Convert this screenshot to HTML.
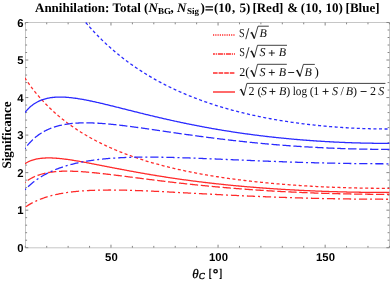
<!DOCTYPE html>
<html><head><meta charset="utf-8"><title>plot</title>
<style>
html,body{margin:0;padding:0;background:#fff;}
body{width:390px;height:281px;overflow:hidden;}
svg{display:block;}
text{text-rendering:geometricPrecision;}
.sans{font-family:"Liberation Sans",sans-serif;font-weight:bold;font-size:11.3px;fill:#000;}
.ser{font-family:"Liberation Serif",serif;fill:#000;}
.leg{font-family:"Liberation Serif",serif;font-size:12px;fill:#111;}
.it{font-style:italic;}
.op{stroke:#111;stroke-width:0.3px;}
</style></head><body>
<svg width="390" height="281" viewBox="0 0 390 281" style="will-change:transform">
<rect width="390" height="281" fill="#fff"/>
<defs><clipPath id="cp"><rect x="24.9" y="22.1" width="365" height="225.9"/></clipPath></defs>
<path d="M25.5,22.5H389.5V247.8H25.5Z" fill="none" stroke="#c6c6c6" stroke-width="1"/>
<g stroke="#858585" stroke-width="1">
<line x1="25.3" y1="247.70" x2="28.3" y2="247.70"/>
<line x1="389.4" y1="247.70" x2="386.4" y2="247.70"/>
<line x1="25.3" y1="240.19" x2="27.1" y2="240.19"/>
<line x1="389.4" y1="240.19" x2="387.6" y2="240.19"/>
<line x1="25.3" y1="232.69" x2="27.1" y2="232.69"/>
<line x1="389.4" y1="232.69" x2="387.6" y2="232.69"/>
<line x1="25.3" y1="225.18" x2="27.1" y2="225.18"/>
<line x1="389.4" y1="225.18" x2="387.6" y2="225.18"/>
<line x1="25.3" y1="217.67" x2="27.1" y2="217.67"/>
<line x1="389.4" y1="217.67" x2="387.6" y2="217.67"/>
<line x1="25.3" y1="210.17" x2="28.3" y2="210.17"/>
<line x1="389.4" y1="210.17" x2="386.4" y2="210.17"/>
<line x1="25.3" y1="202.66" x2="27.1" y2="202.66"/>
<line x1="389.4" y1="202.66" x2="387.6" y2="202.66"/>
<line x1="25.3" y1="195.15" x2="27.1" y2="195.15"/>
<line x1="389.4" y1="195.15" x2="387.6" y2="195.15"/>
<line x1="25.3" y1="187.65" x2="27.1" y2="187.65"/>
<line x1="389.4" y1="187.65" x2="387.6" y2="187.65"/>
<line x1="25.3" y1="180.14" x2="27.1" y2="180.14"/>
<line x1="389.4" y1="180.14" x2="387.6" y2="180.14"/>
<line x1="25.3" y1="172.63" x2="28.3" y2="172.63"/>
<line x1="389.4" y1="172.63" x2="386.4" y2="172.63"/>
<line x1="25.3" y1="165.13" x2="27.1" y2="165.13"/>
<line x1="389.4" y1="165.13" x2="387.6" y2="165.13"/>
<line x1="25.3" y1="157.62" x2="27.1" y2="157.62"/>
<line x1="389.4" y1="157.62" x2="387.6" y2="157.62"/>
<line x1="25.3" y1="150.11" x2="27.1" y2="150.11"/>
<line x1="389.4" y1="150.11" x2="387.6" y2="150.11"/>
<line x1="25.3" y1="142.61" x2="27.1" y2="142.61"/>
<line x1="389.4" y1="142.61" x2="387.6" y2="142.61"/>
<line x1="25.3" y1="135.10" x2="28.3" y2="135.10"/>
<line x1="389.4" y1="135.10" x2="386.4" y2="135.10"/>
<line x1="25.3" y1="127.59" x2="27.1" y2="127.59"/>
<line x1="389.4" y1="127.59" x2="387.6" y2="127.59"/>
<line x1="25.3" y1="120.09" x2="27.1" y2="120.09"/>
<line x1="389.4" y1="120.09" x2="387.6" y2="120.09"/>
<line x1="25.3" y1="112.58" x2="27.1" y2="112.58"/>
<line x1="389.4" y1="112.58" x2="387.6" y2="112.58"/>
<line x1="25.3" y1="105.07" x2="27.1" y2="105.07"/>
<line x1="389.4" y1="105.07" x2="387.6" y2="105.07"/>
<line x1="25.3" y1="97.57" x2="28.3" y2="97.57"/>
<line x1="389.4" y1="97.57" x2="386.4" y2="97.57"/>
<line x1="25.3" y1="90.06" x2="27.1" y2="90.06"/>
<line x1="389.4" y1="90.06" x2="387.6" y2="90.06"/>
<line x1="25.3" y1="82.55" x2="27.1" y2="82.55"/>
<line x1="389.4" y1="82.55" x2="387.6" y2="82.55"/>
<line x1="25.3" y1="75.05" x2="27.1" y2="75.05"/>
<line x1="389.4" y1="75.05" x2="387.6" y2="75.05"/>
<line x1="25.3" y1="67.54" x2="27.1" y2="67.54"/>
<line x1="389.4" y1="67.54" x2="387.6" y2="67.54"/>
<line x1="25.3" y1="60.03" x2="28.3" y2="60.03"/>
<line x1="389.4" y1="60.03" x2="386.4" y2="60.03"/>
<line x1="25.3" y1="52.53" x2="27.1" y2="52.53"/>
<line x1="389.4" y1="52.53" x2="387.6" y2="52.53"/>
<line x1="25.3" y1="45.02" x2="27.1" y2="45.02"/>
<line x1="389.4" y1="45.02" x2="387.6" y2="45.02"/>
<line x1="25.3" y1="37.51" x2="27.1" y2="37.51"/>
<line x1="389.4" y1="37.51" x2="387.6" y2="37.51"/>
<line x1="25.3" y1="30.01" x2="27.1" y2="30.01"/>
<line x1="389.4" y1="30.01" x2="387.6" y2="30.01"/>
<line x1="25.3" y1="22.50" x2="28.3" y2="22.50"/>
<line x1="389.4" y1="22.50" x2="386.4" y2="22.50"/>
<line x1="25.30" y1="247.7" x2="25.30" y2="245.89999999999998"/>
<line x1="25.30" y1="22.5" x2="25.30" y2="24.3"/>
<line x1="46.72" y1="247.7" x2="46.72" y2="245.89999999999998"/>
<line x1="46.72" y1="22.5" x2="46.72" y2="24.3"/>
<line x1="68.14" y1="247.7" x2="68.14" y2="245.89999999999998"/>
<line x1="68.14" y1="22.5" x2="68.14" y2="24.3"/>
<line x1="89.55" y1="247.7" x2="89.55" y2="245.89999999999998"/>
<line x1="89.55" y1="22.5" x2="89.55" y2="24.3"/>
<line x1="110.97" y1="247.7" x2="110.97" y2="244.7"/>
<line x1="110.97" y1="22.5" x2="110.97" y2="25.5"/>
<line x1="132.39" y1="247.7" x2="132.39" y2="245.89999999999998"/>
<line x1="132.39" y1="22.5" x2="132.39" y2="24.3"/>
<line x1="153.81" y1="247.7" x2="153.81" y2="245.89999999999998"/>
<line x1="153.81" y1="22.5" x2="153.81" y2="24.3"/>
<line x1="175.22" y1="247.7" x2="175.22" y2="245.89999999999998"/>
<line x1="175.22" y1="22.5" x2="175.22" y2="24.3"/>
<line x1="196.64" y1="247.7" x2="196.64" y2="245.89999999999998"/>
<line x1="196.64" y1="22.5" x2="196.64" y2="24.3"/>
<line x1="218.06" y1="247.7" x2="218.06" y2="244.7"/>
<line x1="218.06" y1="22.5" x2="218.06" y2="25.5"/>
<line x1="239.48" y1="247.7" x2="239.48" y2="245.89999999999998"/>
<line x1="239.48" y1="22.5" x2="239.48" y2="24.3"/>
<line x1="260.89" y1="247.7" x2="260.89" y2="245.89999999999998"/>
<line x1="260.89" y1="22.5" x2="260.89" y2="24.3"/>
<line x1="282.31" y1="247.7" x2="282.31" y2="245.89999999999998"/>
<line x1="282.31" y1="22.5" x2="282.31" y2="24.3"/>
<line x1="303.73" y1="247.7" x2="303.73" y2="245.89999999999998"/>
<line x1="303.73" y1="22.5" x2="303.73" y2="24.3"/>
<line x1="325.15" y1="247.7" x2="325.15" y2="244.7"/>
<line x1="325.15" y1="22.5" x2="325.15" y2="25.5"/>
<line x1="346.56" y1="247.7" x2="346.56" y2="245.89999999999998"/>
<line x1="346.56" y1="22.5" x2="346.56" y2="24.3"/>
<line x1="367.98" y1="247.7" x2="367.98" y2="245.89999999999998"/>
<line x1="367.98" y1="22.5" x2="367.98" y2="24.3"/>
<line x1="389.40" y1="247.7" x2="389.40" y2="245.89999999999998"/>
<line x1="389.40" y1="22.5" x2="389.40" y2="24.3"/>
</g>
<g clip-path="url(#cp)">
<path d="M24.87,77.89 L25.73,79.19 L26.58,80.47 L27.44,81.72 L28.29,82.95 L29.15,84.15 L30.01,85.34 L30.86,86.50 L31.72,87.64 L32.57,88.77 L33.43,89.87 L34.28,90.96 L35.14,92.03 L36.00,93.08 L36.85,94.11 L37.71,95.13 L38.56,96.14 L39.42,97.12 L40.27,98.10 L41.13,99.06 L41.99,100.00 L42.84,100.93 L43.70,101.85 L44.55,102.75 L45.41,103.64 L46.26,104.52 L47.12,105.39 L47.98,106.24 L48.83,107.09 L49.69,107.92 L50.54,108.74 L51.40,109.55 L52.25,110.35 L53.11,111.14 L53.97,111.92 L54.82,112.68 L55.68,113.44 L56.53,114.19 L57.39,114.93 L58.24,115.66 L59.10,116.38 L59.96,117.10 L60.81,117.80 L61.67,118.50 L62.52,119.18 L63.38,119.86 L64.23,120.53 L65.09,121.20 L65.95,121.85 L66.80,122.50 L67.66,123.14 L68.51,123.77 L69.37,124.40 L70.22,125.01 L71.08,125.63 L71.94,126.23 L72.79,126.83 L73.65,127.42 L74.50,128.00 L75.36,128.58 L76.21,129.15 L77.07,129.72 L77.93,130.28 L78.78,130.83 L79.64,131.38 L80.49,131.92 L81.35,132.45 L82.20,132.98 L83.06,133.51 L83.91,134.03 L84.77,134.54 L85.63,135.05 L86.48,135.55 L87.34,136.05 L88.19,136.54 L89.05,137.03 L89.90,137.51 L90.76,137.99 L91.62,138.46 L92.47,138.93 L93.33,139.39 L94.18,139.85 L95.04,140.30 L95.89,140.75 L96.75,141.20 L97.61,141.64 L98.46,142.07 L99.32,142.51 L100.17,142.93 L101.03,143.36 L101.88,143.78 L102.74,144.19 L103.60,144.60 L104.45,145.01 L105.31,145.41 L106.16,145.81 L107.02,146.21 L107.87,146.60 L108.73,146.99 L109.59,147.38 L110.44,147.76 L111.30,148.13 L112.15,148.51 L113.01,148.88 L113.86,149.25 L114.72,149.61 L115.58,149.97 L116.43,150.33 L117.29,150.68 L118.14,151.03 L119.00,151.38 L119.85,151.72 L120.71,152.07 L121.57,152.40 L122.42,152.74 L123.28,153.07 L124.13,153.40 L124.99,153.73 L125.84,154.05 L126.70,154.37 L127.56,154.69 L128.41,155.00 L129.27,155.31 L130.12,155.62 L130.98,155.93 L131.83,156.23 L132.69,156.54 L133.55,156.83 L134.40,157.13 L135.26,157.42 L136.11,157.71 L136.97,158.00 L137.82,158.29 L138.68,158.57 L139.54,158.85 L140.39,159.13 L141.25,159.41 L142.10,159.68 L142.96,159.95 L143.81,160.22 L144.67,160.49 L145.53,160.75 L146.38,161.02 L147.24,161.28 L148.09,161.53 L148.95,161.79 L149.80,162.04 L150.66,162.30 L151.52,162.54 L152.37,162.79 L153.23,163.04 L154.08,163.28 L154.94,163.52 L155.79,163.76 L156.65,164.00 L157.51,164.23 L158.36,164.47 L159.22,164.70 L160.07,164.93 L160.93,165.16 L161.78,165.38 L162.64,165.61 L163.50,165.83 L164.35,166.05 L165.21,166.27 L166.06,166.48 L166.92,166.70 L167.77,166.91 L168.63,167.12 L169.49,167.33 L170.34,167.54 L171.20,167.75 L172.05,167.95 L172.91,168.15 L173.76,168.36 L174.62,168.56 L175.47,168.75 L176.33,168.95 L177.19,169.15 L178.04,169.34 L178.90,169.53 L179.75,169.72 L180.61,169.91 L181.46,170.10 L182.32,170.28 L183.18,170.47 L184.03,170.65 L184.89,170.83 L185.74,171.01 L186.60,171.19 L187.45,171.37 L188.31,171.54 L189.17,171.72 L190.02,171.89 L190.88,172.06 L191.73,172.23 L192.59,172.40 L193.44,172.57 L194.30,172.73 L195.16,172.90 L196.01,173.06 L196.87,173.22 L197.72,173.38 L198.58,173.54 L199.43,173.70 L200.29,173.86 L201.15,174.02 L202.00,174.17 L202.86,174.32 L203.71,174.48 L204.57,174.63 L205.42,174.78 L206.28,174.92 L207.14,175.07 L207.99,175.22 L208.85,175.36 L209.70,175.51 L210.56,175.65 L211.41,175.79 L212.27,175.93 L213.13,176.07 L213.98,176.21 L214.84,176.35 L215.69,176.48 L216.55,176.62 L217.40,176.75 L218.26,176.88 L219.12,177.02 L219.97,177.15 L220.83,177.28 L221.68,177.41 L222.54,177.53 L223.39,177.66 L224.25,177.78 L225.11,177.91 L225.96,178.03 L226.82,178.16 L227.67,178.28 L228.53,178.40 L229.38,178.52 L230.24,178.64 L231.10,178.75 L231.95,178.87 L232.81,178.99 L233.66,179.10 L234.52,179.21 L235.37,179.33 L236.23,179.44 L237.09,179.55 L237.94,179.66 L238.80,179.77 L239.65,179.88 L240.51,179.99 L241.36,180.09 L242.22,180.20 L243.08,180.30 L243.93,180.41 L244.79,180.51 L245.64,180.61 L246.50,180.71 L247.35,180.81 L248.21,180.91 L249.07,181.01 L249.92,181.11 L250.78,181.21 L251.63,181.30 L252.49,181.40 L253.34,181.49 L254.20,181.59 L255.06,181.68 L255.91,181.77 L256.77,181.86 L257.62,181.95 L258.48,182.04 L259.33,182.13 L260.19,182.22 L261.04,182.31 L261.90,182.40 L262.76,182.48 L263.61,182.57 L264.47,182.65 L265.32,182.74 L266.18,182.82 L267.03,182.90 L267.89,182.98 L268.75,183.06 L269.60,183.14 L270.46,183.22 L271.31,183.30 L272.17,183.38 L273.02,183.46 L273.88,183.53 L274.74,183.61 L275.59,183.68 L276.45,183.76 L277.30,183.83 L278.16,183.90 L279.01,183.98 L279.87,184.05 L280.73,184.12 L281.58,184.19 L282.44,184.26 L283.29,184.33 L284.15,184.40 L285.00,184.46 L285.86,184.53 L286.72,184.60 L287.57,184.66 L288.43,184.73 L289.28,184.79 L290.14,184.85 L290.99,184.92 L291.85,184.98 L292.71,185.04 L293.56,185.10 L294.42,185.16 L295.27,185.22 L296.13,185.28 L296.98,185.34 L297.84,185.40 L298.70,185.45 L299.55,185.51 L300.41,185.57 L301.26,185.62 L302.12,185.68 L302.97,185.73 L303.83,185.78 L304.69,185.84 L305.54,185.89 L306.40,185.94 L307.25,185.99 L308.11,186.04 L308.96,186.09 L309.82,186.14 L310.68,186.19 L311.53,186.24 L312.39,186.29 L313.24,186.33 L314.10,186.38 L314.95,186.43 L315.81,186.47 L316.67,186.52 L317.52,186.56 L318.38,186.60 L319.23,186.65 L320.09,186.69 L320.94,186.73 L321.80,186.77 L322.66,186.81 L323.51,186.85 L324.37,186.89 L325.22,186.93 L326.08,186.97 L326.93,187.01 L327.79,187.04 L328.65,187.08 L329.50,187.12 L330.36,187.15 L331.21,187.19 L332.07,187.22 L332.92,187.26 L333.78,187.29 L334.64,187.32 L335.49,187.36 L336.35,187.39 L337.20,187.42 L338.06,187.45 L338.91,187.48 L339.77,187.51 L340.63,187.54 L341.48,187.57 L342.34,187.60 L343.19,187.62 L344.05,187.65 L344.90,187.68 L345.76,187.70 L346.61,187.73 L347.47,187.75 L348.33,187.78 L349.18,187.80 L350.04,187.83 L350.89,187.85 L351.75,187.87 L352.60,187.89 L353.46,187.91 L354.32,187.93 L355.17,187.96 L356.03,187.97 L356.88,187.99 L357.74,188.01 L358.59,188.03 L359.45,188.05 L360.31,188.07 L361.16,188.08 L362.02,188.10 L362.87,188.12 L363.73,188.13 L364.58,188.15 L365.44,188.16 L366.30,188.17 L367.15,188.19 L368.01,188.20 L368.86,188.21 L369.72,188.22 L370.57,188.23 L371.43,188.24 L372.29,188.26 L373.14,188.26 L374.00,188.27 L374.85,188.28 L375.71,188.29 L376.56,188.30 L377.42,188.31 L378.28,188.31 L379.13,188.32 L379.99,188.32 L380.84,188.33 L381.70,188.33 L382.55,188.34 L383.41,188.34 L384.27,188.35 L385.12,188.35 L385.98,188.35 L386.83,188.35 L387.69,188.35 L388.54,188.35 L389.40,188.35" fill="none" stroke="#ff2a2a" stroke-width="1.28" stroke-dasharray="3.05 2.499" stroke-dashoffset="0.24"/>
<path d="M24.87,207.39 L25.73,206.80 L26.58,206.22 L27.44,205.67 L28.29,205.13 L29.15,204.61 L30.01,204.11 L30.86,203.63 L31.72,203.16 L32.57,202.71 L33.43,202.28 L34.28,201.85 L35.14,201.44 L36.00,201.05 L36.85,200.66 L37.71,200.29 L38.56,199.93 L39.42,199.58 L40.27,199.24 L41.13,198.91 L41.99,198.60 L42.84,198.29 L43.70,197.99 L44.55,197.70 L45.41,197.42 L46.26,197.14 L47.12,196.88 L47.98,196.62 L48.83,196.37 L49.69,196.13 L50.54,195.90 L51.40,195.67 L52.25,195.45 L53.11,195.23 L53.97,195.03 L54.82,194.83 L55.68,194.63 L56.53,194.44 L57.39,194.26 L58.24,194.08 L59.10,193.91 L59.96,193.74 L60.81,193.58 L61.67,193.42 L62.52,193.27 L63.38,193.12 L64.23,192.98 L65.09,192.85 L65.95,192.71 L66.80,192.58 L67.66,192.46 L68.51,192.34 L69.37,192.22 L70.22,192.11 L71.08,192.00 L71.94,191.90 L72.79,191.80 L73.65,191.70 L74.50,191.61 L75.36,191.52 L76.21,191.43 L77.07,191.35 L77.93,191.27 L78.78,191.19 L79.64,191.12 L80.49,191.05 L81.35,190.98 L82.20,190.91 L83.06,190.85 L83.91,190.79 L84.77,190.73 L85.63,190.68 L86.48,190.63 L87.34,190.58 L88.19,190.53 L89.05,190.49 L89.90,190.44 L90.76,190.40 L91.62,190.37 L92.47,190.33 L93.33,190.30 L94.18,190.27 L95.04,190.24 L95.89,190.21 L96.75,190.18 L97.61,190.16 L98.46,190.14 L99.32,190.12 L100.17,190.10 L101.03,190.09 L101.88,190.07 L102.74,190.06 L103.60,190.05 L104.45,190.04 L105.31,190.03 L106.16,190.02 L107.02,190.02 L107.87,190.02 L108.73,190.01 L109.59,190.01 L110.44,190.01 L111.30,190.02 L112.15,190.02 L113.01,190.02 L113.86,190.03 L114.72,190.04 L115.58,190.04 L116.43,190.05 L117.29,190.06 L118.14,190.08 L119.00,190.09 L119.85,190.10 L120.71,190.12 L121.57,190.13 L122.42,190.15 L123.28,190.17 L124.13,190.19 L124.99,190.21 L125.84,190.23 L126.70,190.25 L127.56,190.27 L128.41,190.29 L129.27,190.32 L130.12,190.34 L130.98,190.37 L131.83,190.39 L132.69,190.42 L133.55,190.45 L134.40,190.47 L135.26,190.50 L136.11,190.53 L136.97,190.56 L137.82,190.59 L138.68,190.62 L139.54,190.66 L140.39,190.69 L141.25,190.72 L142.10,190.75 L142.96,190.79 L143.81,190.82 L144.67,190.86 L145.53,190.89 L146.38,190.93 L147.24,190.97 L148.09,191.00 L148.95,191.04 L149.80,191.08 L150.66,191.11 L151.52,191.15 L152.37,191.19 L153.23,191.23 L154.08,191.27 L154.94,191.31 L155.79,191.35 L156.65,191.39 L157.51,191.43 L158.36,191.47 L159.22,191.51 L160.07,191.56 L160.93,191.60 L161.78,191.64 L162.64,191.68 L163.50,191.72 L164.35,191.77 L165.21,191.81 L166.06,191.85 L166.92,191.90 L167.77,191.94 L168.63,191.98 L169.49,192.03 L170.34,192.07 L171.20,192.12 L172.05,192.16 L172.91,192.20 L173.76,192.25 L174.62,192.29 L175.47,192.34 L176.33,192.38 L177.19,192.43 L178.04,192.47 L178.90,192.52 L179.75,192.56 L180.61,192.61 L181.46,192.66 L182.32,192.70 L183.18,192.75 L184.03,192.79 L184.89,192.84 L185.74,192.88 L186.60,192.93 L187.45,192.97 L188.31,193.02 L189.17,193.07 L190.02,193.11 L190.88,193.16 L191.73,193.20 L192.59,193.25 L193.44,193.29 L194.30,193.34 L195.16,193.39 L196.01,193.43 L196.87,193.48 L197.72,193.52 L198.58,193.57 L199.43,193.61 L200.29,193.66 L201.15,193.71 L202.00,193.75 L202.86,193.80 L203.71,193.84 L204.57,193.89 L205.42,193.93 L206.28,193.98 L207.14,194.02 L207.99,194.07 L208.85,194.11 L209.70,194.16 L210.56,194.20 L211.41,194.24 L212.27,194.29 L213.13,194.33 L213.98,194.38 L214.84,194.42 L215.69,194.47 L216.55,194.51 L217.40,194.55 L218.26,194.60 L219.12,194.64 L219.97,194.68 L220.83,194.73 L221.68,194.77 L222.54,194.81 L223.39,194.86 L224.25,194.90 L225.11,194.94 L225.96,194.98 L226.82,195.03 L227.67,195.07 L228.53,195.11 L229.38,195.15 L230.24,195.19 L231.10,195.23 L231.95,195.28 L232.81,195.32 L233.66,195.36 L234.52,195.40 L235.37,195.44 L236.23,195.48 L237.09,195.52 L237.94,195.56 L238.80,195.60 L239.65,195.64 L240.51,195.68 L241.36,195.72 L242.22,195.76 L243.08,195.80 L243.93,195.84 L244.79,195.88 L245.64,195.91 L246.50,195.95 L247.35,195.99 L248.21,196.03 L249.07,196.07 L249.92,196.10 L250.78,196.14 L251.63,196.18 L252.49,196.22 L253.34,196.25 L254.20,196.29 L255.06,196.33 L255.91,196.36 L256.77,196.40 L257.62,196.43 L258.48,196.47 L259.33,196.50 L260.19,196.54 L261.04,196.58 L261.90,196.61 L262.76,196.64 L263.61,196.68 L264.47,196.71 L265.32,196.75 L266.18,196.78 L267.03,196.81 L267.89,196.85 L268.75,196.88 L269.60,196.91 L270.46,196.95 L271.31,196.98 L272.17,197.01 L273.02,197.04 L273.88,197.08 L274.74,197.11 L275.59,197.14 L276.45,197.17 L277.30,197.20 L278.16,197.23 L279.01,197.26 L279.87,197.29 L280.73,197.32 L281.58,197.35 L282.44,197.38 L283.29,197.41 L284.15,197.44 L285.00,197.47 L285.86,197.50 L286.72,197.53 L287.57,197.55 L288.43,197.58 L289.28,197.61 L290.14,197.64 L290.99,197.67 L291.85,197.69 L292.71,197.72 L293.56,197.75 L294.42,197.77 L295.27,197.80 L296.13,197.83 L296.98,197.85 L297.84,197.88 L298.70,197.90 L299.55,197.93 L300.41,197.95 L301.26,197.98 L302.12,198.00 L302.97,198.03 L303.83,198.05 L304.69,198.07 L305.54,198.10 L306.40,198.12 L307.25,198.14 L308.11,198.17 L308.96,198.19 L309.82,198.21 L310.68,198.23 L311.53,198.25 L312.39,198.28 L313.24,198.30 L314.10,198.32 L314.95,198.34 L315.81,198.36 L316.67,198.38 L317.52,198.40 L318.38,198.42 L319.23,198.44 L320.09,198.46 L320.94,198.48 L321.80,198.50 L322.66,198.52 L323.51,198.53 L324.37,198.55 L325.22,198.57 L326.08,198.59 L326.93,198.61 L327.79,198.62 L328.65,198.64 L329.50,198.66 L330.36,198.67 L331.21,198.69 L332.07,198.71 L332.92,198.72 L333.78,198.74 L334.64,198.75 L335.49,198.77 L336.35,198.78 L337.20,198.80 L338.06,198.81 L338.91,198.83 L339.77,198.84 L340.63,198.86 L341.48,198.87 L342.34,198.88 L343.19,198.90 L344.05,198.91 L344.90,198.92 L345.76,198.93 L346.61,198.95 L347.47,198.96 L348.33,198.97 L349.18,198.98 L350.04,198.99 L350.89,199.00 L351.75,199.01 L352.60,199.02 L353.46,199.03 L354.32,199.04 L355.17,199.05 L356.03,199.06 L356.88,199.07 L357.74,199.08 L358.59,199.09 L359.45,199.10 L360.31,199.11 L361.16,199.11 L362.02,199.12 L362.87,199.13 L363.73,199.14 L364.58,199.14 L365.44,199.15 L366.30,199.16 L367.15,199.16 L368.01,199.17 L368.86,199.18 L369.72,199.18 L370.57,199.19 L371.43,199.19 L372.29,199.20 L373.14,199.20 L374.00,199.21 L374.85,199.21 L375.71,199.21 L376.56,199.22 L377.42,199.22 L378.28,199.22 L379.13,199.23 L379.99,199.23 L380.84,199.23 L381.70,199.23 L382.55,199.24 L383.41,199.24 L384.27,199.24 L385.12,199.24 L385.98,199.24 L386.83,199.24 L387.69,199.24 L388.54,199.24 L389.40,199.24" fill="none" stroke="#ff2a2a" stroke-width="1.28" stroke-dasharray="8.2 2.9 2.0 2.914" stroke-dashoffset="-1.04"/>
<path d="M24.87,182.55 L25.73,181.87 L26.58,181.23 L27.44,180.62 L28.29,180.04 L29.15,179.49 L30.01,178.98 L30.86,178.48 L31.72,178.02 L32.57,177.57 L33.43,177.15 L34.28,176.76 L35.14,176.38 L36.00,176.02 L36.85,175.68 L37.71,175.36 L38.56,175.06 L39.42,174.77 L40.27,174.50 L41.13,174.24 L41.99,174.00 L42.84,173.77 L43.70,173.55 L44.55,173.35 L45.41,173.15 L46.26,172.97 L47.12,172.80 L47.98,172.64 L48.83,172.50 L49.69,172.36 L50.54,172.23 L51.40,172.11 L52.25,172.00 L53.11,171.89 L53.97,171.80 L54.82,171.71 L55.68,171.63 L56.53,171.56 L57.39,171.49 L58.24,171.43 L59.10,171.38 L59.96,171.33 L60.81,171.29 L61.67,171.26 L62.52,171.23 L63.38,171.21 L64.23,171.19 L65.09,171.17 L65.95,171.17 L66.80,171.16 L67.66,171.16 L68.51,171.17 L69.37,171.18 L70.22,171.19 L71.08,171.21 L71.94,171.23 L72.79,171.25 L73.65,171.28 L74.50,171.31 L75.36,171.35 L76.21,171.38 L77.07,171.43 L77.93,171.47 L78.78,171.52 L79.64,171.57 L80.49,171.62 L81.35,171.67 L82.20,171.73 L83.06,171.79 L83.91,171.85 L84.77,171.92 L85.63,171.98 L86.48,172.05 L87.34,172.12 L88.19,172.19 L89.05,172.27 L89.90,172.34 L90.76,172.42 L91.62,172.50 L92.47,172.58 L93.33,172.66 L94.18,172.75 L95.04,172.83 L95.89,172.92 L96.75,173.01 L97.61,173.10 L98.46,173.19 L99.32,173.28 L100.17,173.37 L101.03,173.46 L101.88,173.56 L102.74,173.65 L103.60,173.75 L104.45,173.85 L105.31,173.94 L106.16,174.04 L107.02,174.14 L107.87,174.24 L108.73,174.35 L109.59,174.45 L110.44,174.55 L111.30,174.65 L112.15,174.76 L113.01,174.86 L113.86,174.96 L114.72,175.07 L115.58,175.18 L116.43,175.28 L117.29,175.39 L118.14,175.49 L119.00,175.60 L119.85,175.71 L120.71,175.82 L121.57,175.92 L122.42,176.03 L123.28,176.14 L124.13,176.25 L124.99,176.36 L125.84,176.47 L126.70,176.58 L127.56,176.69 L128.41,176.80 L129.27,176.90 L130.12,177.01 L130.98,177.12 L131.83,177.23 L132.69,177.34 L133.55,177.45 L134.40,177.56 L135.26,177.67 L136.11,177.78 L136.97,177.89 L137.82,178.00 L138.68,178.11 L139.54,178.22 L140.39,178.33 L141.25,178.44 L142.10,178.55 L142.96,178.66 L143.81,178.77 L144.67,178.87 L145.53,178.98 L146.38,179.09 L147.24,179.20 L148.09,179.31 L148.95,179.41 L149.80,179.52 L150.66,179.63 L151.52,179.74 L152.37,179.84 L153.23,179.95 L154.08,180.06 L154.94,180.16 L155.79,180.27 L156.65,180.37 L157.51,180.48 L158.36,180.58 L159.22,180.69 L160.07,180.79 L160.93,180.90 L161.78,181.00 L162.64,181.10 L163.50,181.21 L164.35,181.31 L165.21,181.41 L166.06,181.52 L166.92,181.62 L167.77,181.72 L168.63,181.82 L169.49,181.92 L170.34,182.02 L171.20,182.12 L172.05,182.22 L172.91,182.32 L173.76,182.42 L174.62,182.52 L175.47,182.62 L176.33,182.71 L177.19,182.81 L178.04,182.91 L178.90,183.01 L179.75,183.10 L180.61,183.20 L181.46,183.29 L182.32,183.39 L183.18,183.48 L184.03,183.58 L184.89,183.67 L185.74,183.77 L186.60,183.86 L187.45,183.95 L188.31,184.04 L189.17,184.14 L190.02,184.23 L190.88,184.32 L191.73,184.41 L192.59,184.50 L193.44,184.59 L194.30,184.68 L195.16,184.77 L196.01,184.86 L196.87,184.94 L197.72,185.03 L198.58,185.12 L199.43,185.21 L200.29,185.29 L201.15,185.38 L202.00,185.46 L202.86,185.55 L203.71,185.63 L204.57,185.72 L205.42,185.80 L206.28,185.89 L207.14,185.97 L207.99,186.05 L208.85,186.13 L209.70,186.21 L210.56,186.30 L211.41,186.38 L212.27,186.46 L213.13,186.54 L213.98,186.62 L214.84,186.69 L215.69,186.77 L216.55,186.85 L217.40,186.93 L218.26,187.01 L219.12,187.08 L219.97,187.16 L220.83,187.24 L221.68,187.31 L222.54,187.39 L223.39,187.46 L224.25,187.53 L225.11,187.61 L225.96,187.68 L226.82,187.75 L227.67,187.83 L228.53,187.90 L229.38,187.97 L230.24,188.04 L231.10,188.11 L231.95,188.18 L232.81,188.25 L233.66,188.32 L234.52,188.39 L235.37,188.46 L236.23,188.53 L237.09,188.59 L237.94,188.66 L238.80,188.73 L239.65,188.80 L240.51,188.86 L241.36,188.93 L242.22,188.99 L243.08,189.06 L243.93,189.12 L244.79,189.18 L245.64,189.25 L246.50,189.31 L247.35,189.37 L248.21,189.44 L249.07,189.50 L249.92,189.56 L250.78,189.62 L251.63,189.68 L252.49,189.74 L253.34,189.80 L254.20,189.86 L255.06,189.92 L255.91,189.97 L256.77,190.03 L257.62,190.09 L258.48,190.15 L259.33,190.20 L260.19,190.26 L261.04,190.32 L261.90,190.37 L262.76,190.43 L263.61,190.48 L264.47,190.53 L265.32,190.59 L266.18,190.64 L267.03,190.69 L267.89,190.75 L268.75,190.80 L269.60,190.85 L270.46,190.90 L271.31,190.95 L272.17,191.00 L273.02,191.05 L273.88,191.10 L274.74,191.15 L275.59,191.20 L276.45,191.25 L277.30,191.30 L278.16,191.35 L279.01,191.39 L279.87,191.44 L280.73,191.49 L281.58,191.53 L282.44,191.58 L283.29,191.62 L284.15,191.67 L285.00,191.71 L285.86,191.76 L286.72,191.80 L287.57,191.84 L288.43,191.89 L289.28,191.93 L290.14,191.97 L290.99,192.01 L291.85,192.05 L292.71,192.09 L293.56,192.13 L294.42,192.17 L295.27,192.21 L296.13,192.25 L296.98,192.29 L297.84,192.33 L298.70,192.37 L299.55,192.41 L300.41,192.44 L301.26,192.48 L302.12,192.52 L302.97,192.55 L303.83,192.59 L304.69,192.63 L305.54,192.66 L306.40,192.70 L307.25,192.73 L308.11,192.76 L308.96,192.80 L309.82,192.83 L310.68,192.86 L311.53,192.90 L312.39,192.93 L313.24,192.96 L314.10,192.99 L314.95,193.02 L315.81,193.05 L316.67,193.08 L317.52,193.11 L318.38,193.14 L319.23,193.17 L320.09,193.20 L320.94,193.23 L321.80,193.26 L322.66,193.29 L323.51,193.31 L324.37,193.34 L325.22,193.37 L326.08,193.39 L326.93,193.42 L327.79,193.45 L328.65,193.47 L329.50,193.49 L330.36,193.52 L331.21,193.54 L332.07,193.57 L332.92,193.59 L333.78,193.61 L334.64,193.64 L335.49,193.66 L336.35,193.68 L337.20,193.70 L338.06,193.72 L338.91,193.74 L339.77,193.76 L340.63,193.78 L341.48,193.80 L342.34,193.82 L343.19,193.84 L344.05,193.86 L344.90,193.88 L345.76,193.90 L346.61,193.92 L347.47,193.93 L348.33,193.95 L349.18,193.97 L350.04,193.98 L350.89,194.00 L351.75,194.01 L352.60,194.03 L353.46,194.04 L354.32,194.06 L355.17,194.07 L356.03,194.09 L356.88,194.10 L357.74,194.11 L358.59,194.12 L359.45,194.14 L360.31,194.15 L361.16,194.16 L362.02,194.17 L362.87,194.18 L363.73,194.19 L364.58,194.20 L365.44,194.21 L366.30,194.22 L367.15,194.23 L368.01,194.24 L368.86,194.25 L369.72,194.26 L370.57,194.27 L371.43,194.27 L372.29,194.28 L373.14,194.29 L374.00,194.29 L374.85,194.30 L375.71,194.31 L376.56,194.31 L377.42,194.32 L378.28,194.32 L379.13,194.32 L379.99,194.33 L380.84,194.33 L381.70,194.34 L382.55,194.34 L383.41,194.34 L384.27,194.34 L385.12,194.35 L385.98,194.35 L386.83,194.35 L387.69,194.35 L388.54,194.35 L389.40,194.35" fill="none" stroke="#ff2a2a" stroke-width="1.28" stroke-dasharray="8.3 2.67" stroke-dashoffset="-3.59"/>
<path d="M24.87,163.72 L25.73,163.19 L26.58,162.69 L27.44,162.22 L28.29,161.79 L29.15,161.40 L30.01,161.03 L30.86,160.69 L31.72,160.38 L32.57,160.10 L33.43,159.83 L34.28,159.59 L35.14,159.37 L36.00,159.17 L36.85,158.99 L37.71,158.83 L38.56,158.68 L39.42,158.55 L40.27,158.43 L41.13,158.33 L41.99,158.24 L42.84,158.16 L43.70,158.10 L44.55,158.05 L45.41,158.00 L46.26,157.97 L47.12,157.95 L47.98,157.94 L48.83,157.94 L49.69,157.94 L50.54,157.96 L51.40,157.98 L52.25,158.01 L53.11,158.04 L53.97,158.09 L54.82,158.14 L55.68,158.19 L56.53,158.25 L57.39,158.32 L58.24,158.39 L59.10,158.47 L59.96,158.55 L60.81,158.64 L61.67,158.73 L62.52,158.83 L63.38,158.93 L64.23,159.03 L65.09,159.14 L65.95,159.25 L66.80,159.37 L67.66,159.48 L68.51,159.60 L69.37,159.73 L70.22,159.85 L71.08,159.98 L71.94,160.11 L72.79,160.25 L73.65,160.38 L74.50,160.52 L75.36,160.66 L76.21,160.80 L77.07,160.95 L77.93,161.09 L78.78,161.24 L79.64,161.39 L80.49,161.54 L81.35,161.69 L82.20,161.85 L83.06,162.00 L83.91,162.16 L84.77,162.31 L85.63,162.47 L86.48,162.63 L87.34,162.79 L88.19,162.95 L89.05,163.11 L89.90,163.27 L90.76,163.44 L91.62,163.60 L92.47,163.76 L93.33,163.93 L94.18,164.09 L95.04,164.26 L95.89,164.42 L96.75,164.59 L97.61,164.76 L98.46,164.92 L99.32,165.09 L100.17,165.26 L101.03,165.42 L101.88,165.59 L102.74,165.76 L103.60,165.92 L104.45,166.09 L105.31,166.26 L106.16,166.43 L107.02,166.59 L107.87,166.76 L108.73,166.93 L109.59,167.10 L110.44,167.26 L111.30,167.43 L112.15,167.60 L113.01,167.76 L113.86,167.93 L114.72,168.09 L115.58,168.26 L116.43,168.42 L117.29,168.59 L118.14,168.75 L119.00,168.92 L119.85,169.08 L120.71,169.25 L121.57,169.41 L122.42,169.57 L123.28,169.73 L124.13,169.90 L124.99,170.06 L125.84,170.22 L126.70,170.38 L127.56,170.54 L128.41,170.70 L129.27,170.86 L130.12,171.02 L130.98,171.17 L131.83,171.33 L132.69,171.49 L133.55,171.64 L134.40,171.80 L135.26,171.96 L136.11,172.11 L136.97,172.26 L137.82,172.42 L138.68,172.57 L139.54,172.72 L140.39,172.88 L141.25,173.03 L142.10,173.18 L142.96,173.33 L143.81,173.48 L144.67,173.63 L145.53,173.77 L146.38,173.92 L147.24,174.07 L148.09,174.21 L148.95,174.36 L149.80,174.50 L150.66,174.65 L151.52,174.79 L152.37,174.94 L153.23,175.08 L154.08,175.22 L154.94,175.36 L155.79,175.50 L156.65,175.64 L157.51,175.78 L158.36,175.92 L159.22,176.06 L160.07,176.19 L160.93,176.33 L161.78,176.47 L162.64,176.60 L163.50,176.74 L164.35,176.87 L165.21,177.00 L166.06,177.13 L166.92,177.27 L167.77,177.40 L168.63,177.53 L169.49,177.66 L170.34,177.79 L171.20,177.91 L172.05,178.04 L172.91,178.17 L173.76,178.30 L174.62,178.42 L175.47,178.55 L176.33,178.67 L177.19,178.79 L178.04,178.92 L178.90,179.04 L179.75,179.16 L180.61,179.28 L181.46,179.40 L182.32,179.52 L183.18,179.64 L184.03,179.76 L184.89,179.88 L185.74,179.99 L186.60,180.11 L187.45,180.23 L188.31,180.34 L189.17,180.45 L190.02,180.57 L190.88,180.68 L191.73,180.79 L192.59,180.90 L193.44,181.02 L194.30,181.13 L195.16,181.24 L196.01,181.35 L196.87,181.45 L197.72,181.56 L198.58,181.67 L199.43,181.77 L200.29,181.88 L201.15,181.99 L202.00,182.09 L202.86,182.19 L203.71,182.30 L204.57,182.40 L205.42,182.50 L206.28,182.60 L207.14,182.70 L207.99,182.80 L208.85,182.90 L209.70,183.00 L210.56,183.10 L211.41,183.20 L212.27,183.30 L213.13,183.39 L213.98,183.49 L214.84,183.58 L215.69,183.68 L216.55,183.77 L217.40,183.87 L218.26,183.96 L219.12,184.05 L219.97,184.14 L220.83,184.23 L221.68,184.32 L222.54,184.41 L223.39,184.50 L224.25,184.59 L225.11,184.68 L225.96,184.77 L226.82,184.85 L227.67,184.94 L228.53,185.02 L229.38,185.11 L230.24,185.19 L231.10,185.28 L231.95,185.36 L232.81,185.44 L233.66,185.53 L234.52,185.61 L235.37,185.69 L236.23,185.77 L237.09,185.85 L237.94,185.93 L238.80,186.01 L239.65,186.09 L240.51,186.16 L241.36,186.24 L242.22,186.32 L243.08,186.39 L243.93,186.47 L244.79,186.54 L245.64,186.62 L246.50,186.69 L247.35,186.77 L248.21,186.84 L249.07,186.91 L249.92,186.98 L250.78,187.05 L251.63,187.12 L252.49,187.19 L253.34,187.26 L254.20,187.33 L255.06,187.40 L255.91,187.47 L256.77,187.54 L257.62,187.60 L258.48,187.67 L259.33,187.74 L260.19,187.80 L261.04,187.87 L261.90,187.93 L262.76,188.00 L263.61,188.06 L264.47,188.12 L265.32,188.18 L266.18,188.25 L267.03,188.31 L267.89,188.37 L268.75,188.43 L269.60,188.49 L270.46,188.55 L271.31,188.61 L272.17,188.66 L273.02,188.72 L273.88,188.78 L274.74,188.84 L275.59,188.89 L276.45,188.95 L277.30,189.00 L278.16,189.06 L279.01,189.11 L279.87,189.17 L280.73,189.22 L281.58,189.27 L282.44,189.33 L283.29,189.38 L284.15,189.43 L285.00,189.48 L285.86,189.53 L286.72,189.58 L287.57,189.63 L288.43,189.68 L289.28,189.73 L290.14,189.78 L290.99,189.83 L291.85,189.87 L292.71,189.92 L293.56,189.97 L294.42,190.01 L295.27,190.06 L296.13,190.10 L296.98,190.15 L297.84,190.19 L298.70,190.24 L299.55,190.28 L300.41,190.32 L301.26,190.37 L302.12,190.41 L302.97,190.45 L303.83,190.49 L304.69,190.53 L305.54,190.57 L306.40,190.61 L307.25,190.65 L308.11,190.69 L308.96,190.73 L309.82,190.76 L310.68,190.80 L311.53,190.84 L312.39,190.88 L313.24,190.91 L314.10,190.95 L314.95,190.98 L315.81,191.02 L316.67,191.05 L317.52,191.09 L318.38,191.12 L319.23,191.15 L320.09,191.19 L320.94,191.22 L321.80,191.25 L322.66,191.28 L323.51,191.31 L324.37,191.34 L325.22,191.37 L326.08,191.40 L326.93,191.43 L327.79,191.46 L328.65,191.49 L329.50,191.52 L330.36,191.55 L331.21,191.57 L332.07,191.60 L332.92,191.63 L333.78,191.65 L334.64,191.68 L335.49,191.71 L336.35,191.73 L337.20,191.75 L338.06,191.78 L338.91,191.80 L339.77,191.83 L340.63,191.85 L341.48,191.87 L342.34,191.89 L343.19,191.91 L344.05,191.94 L344.90,191.96 L345.76,191.98 L346.61,192.00 L347.47,192.02 L348.33,192.03 L349.18,192.05 L350.04,192.07 L350.89,192.09 L351.75,192.11 L352.60,192.12 L353.46,192.14 L354.32,192.16 L355.17,192.17 L356.03,192.19 L356.88,192.20 L357.74,192.22 L358.59,192.23 L359.45,192.25 L360.31,192.26 L361.16,192.27 L362.02,192.29 L362.87,192.30 L363.73,192.31 L364.58,192.32 L365.44,192.33 L366.30,192.34 L367.15,192.35 L368.01,192.36 L368.86,192.37 L369.72,192.38 L370.57,192.39 L371.43,192.40 L372.29,192.41 L373.14,192.42 L374.00,192.42 L374.85,192.43 L375.71,192.44 L376.56,192.44 L377.42,192.45 L378.28,192.45 L379.13,192.46 L379.99,192.46 L380.84,192.47 L381.70,192.47 L382.55,192.47 L383.41,192.48 L384.27,192.48 L385.12,192.48 L385.98,192.48 L386.83,192.49 L387.69,192.49 L388.54,192.49 L389.40,192.49" fill="none" stroke="#ff2a2a" stroke-width="1.28"/>
<path d="M24.87,-91.92 L25.73,-89.32 L26.58,-86.77 L27.44,-84.26 L28.29,-81.81 L29.15,-79.39 L30.01,-77.03 L30.86,-74.70 L31.72,-72.41 L32.57,-70.16 L33.43,-67.95 L34.28,-65.78 L35.14,-63.64 L36.00,-61.54 L36.85,-59.47 L37.71,-57.43 L38.56,-55.43 L39.42,-53.45 L40.27,-51.50 L41.13,-49.59 L41.99,-47.70 L42.84,-45.84 L43.70,-44.00 L44.55,-42.20 L45.41,-40.41 L46.26,-38.66 L47.12,-36.92 L47.98,-35.21 L48.83,-33.53 L49.69,-31.86 L50.54,-30.22 L51.40,-28.60 L52.25,-27.00 L53.11,-25.43 L53.97,-23.87 L54.82,-22.33 L55.68,-20.81 L56.53,-19.32 L57.39,-17.84 L58.24,-16.37 L59.10,-14.93 L59.96,-13.51 L60.81,-12.10 L61.67,-10.71 L62.52,-9.33 L63.38,-7.98 L64.23,-6.63 L65.09,-5.31 L65.95,-4.00 L66.80,-2.70 L67.66,-1.42 L68.51,-0.16 L69.37,1.09 L70.22,2.33 L71.08,3.55 L71.94,4.76 L72.79,5.96 L73.65,7.14 L74.50,8.31 L75.36,9.46 L76.21,10.60 L77.07,11.73 L77.93,12.85 L78.78,13.96 L79.64,15.05 L80.49,16.14 L81.35,17.21 L82.20,18.27 L83.06,19.32 L83.91,20.35 L84.77,21.38 L85.63,22.39 L86.48,23.40 L87.34,24.39 L88.19,25.38 L89.05,26.35 L89.90,27.32 L90.76,28.27 L91.62,29.22 L92.47,30.15 L93.33,31.08 L94.18,32.00 L95.04,32.90 L95.89,33.80 L96.75,34.69 L97.61,35.57 L98.46,36.45 L99.32,37.31 L100.17,38.17 L101.03,39.01 L101.88,39.85 L102.74,40.68 L103.60,41.51 L104.45,42.32 L105.31,43.13 L106.16,43.93 L107.02,44.72 L107.87,45.50 L108.73,46.28 L109.59,47.05 L110.44,47.81 L111.30,48.57 L112.15,49.32 L113.01,50.06 L113.86,50.79 L114.72,51.52 L115.58,52.24 L116.43,52.96 L117.29,53.66 L118.14,54.36 L119.00,55.06 L119.85,55.75 L120.71,56.43 L121.57,57.11 L122.42,57.78 L123.28,58.44 L124.13,59.10 L124.99,59.75 L125.84,60.40 L126.70,61.04 L127.56,61.68 L128.41,62.30 L129.27,62.93 L130.12,63.55 L130.98,64.16 L131.83,64.77 L132.69,65.37 L133.55,65.97 L134.40,66.56 L135.26,67.15 L136.11,67.73 L136.97,68.30 L137.82,68.88 L138.68,69.44 L139.54,70.01 L140.39,70.56 L141.25,71.11 L142.10,71.66 L142.96,72.21 L143.81,72.74 L144.67,73.28 L145.53,73.81 L146.38,74.33 L147.24,74.85 L148.09,75.37 L148.95,75.88 L149.80,76.39 L150.66,76.89 L151.52,77.39 L152.37,77.88 L153.23,78.37 L154.08,78.86 L154.94,79.34 L155.79,79.82 L156.65,80.30 L157.51,80.77 L158.36,81.23 L159.22,81.70 L160.07,82.16 L160.93,82.61 L161.78,83.06 L162.64,83.51 L163.50,83.96 L164.35,84.40 L165.21,84.83 L166.06,85.27 L166.92,85.70 L167.77,86.12 L168.63,86.55 L169.49,86.96 L170.34,87.38 L171.20,87.79 L172.05,88.20 L172.91,88.61 L173.76,89.01 L174.62,89.41 L175.47,89.81 L176.33,90.20 L177.19,90.59 L178.04,90.98 L178.90,91.36 L179.75,91.74 L180.61,92.12 L181.46,92.49 L182.32,92.87 L183.18,93.23 L184.03,93.60 L184.89,93.96 L185.74,94.32 L186.60,94.68 L187.45,95.03 L188.31,95.39 L189.17,95.73 L190.02,96.08 L190.88,96.42 L191.73,96.76 L192.59,97.10 L193.44,97.43 L194.30,97.77 L195.16,98.10 L196.01,98.42 L196.87,98.75 L197.72,99.07 L198.58,99.39 L199.43,99.71 L200.29,100.02 L201.15,100.33 L202.00,100.64 L202.86,100.95 L203.71,101.25 L204.57,101.55 L205.42,101.85 L206.28,102.15 L207.14,102.44 L207.99,102.74 L208.85,103.03 L209.70,103.31 L210.56,103.60 L211.41,103.88 L212.27,104.16 L213.13,104.44 L213.98,104.72 L214.84,104.99 L215.69,105.27 L216.55,105.54 L217.40,105.80 L218.26,106.07 L219.12,106.33 L219.97,106.59 L220.83,106.85 L221.68,107.11 L222.54,107.37 L223.39,107.62 L224.25,107.87 L225.11,108.12 L225.96,108.37 L226.82,108.61 L227.67,108.85 L228.53,109.09 L229.38,109.33 L230.24,109.57 L231.10,109.81 L231.95,110.04 L232.81,110.27 L233.66,110.50 L234.52,110.73 L235.37,110.95 L236.23,111.18 L237.09,111.40 L237.94,111.62 L238.80,111.84 L239.65,112.06 L240.51,112.27 L241.36,112.48 L242.22,112.70 L243.08,112.90 L243.93,113.11 L244.79,113.32 L245.64,113.52 L246.50,113.73 L247.35,113.93 L248.21,114.13 L249.07,114.32 L249.92,114.52 L250.78,114.71 L251.63,114.91 L252.49,115.10 L253.34,115.29 L254.20,115.47 L255.06,115.66 L255.91,115.85 L256.77,116.03 L257.62,116.21 L258.48,116.39 L259.33,116.57 L260.19,116.74 L261.04,116.92 L261.90,117.09 L262.76,117.26 L263.61,117.44 L264.47,117.60 L265.32,117.77 L266.18,117.94 L267.03,118.10 L267.89,118.27 L268.75,118.43 L269.60,118.59 L270.46,118.75 L271.31,118.90 L272.17,119.06 L273.02,119.21 L273.88,119.37 L274.74,119.52 L275.59,119.67 L276.45,119.82 L277.30,119.96 L278.16,120.11 L279.01,120.25 L279.87,120.40 L280.73,120.54 L281.58,120.68 L282.44,120.82 L283.29,120.95 L284.15,121.09 L285.00,121.23 L285.86,121.36 L286.72,121.49 L287.57,121.62 L288.43,121.75 L289.28,121.88 L290.14,122.01 L290.99,122.13 L291.85,122.26 L292.71,122.38 L293.56,122.50 L294.42,122.62 L295.27,122.74 L296.13,122.86 L296.98,122.98 L297.84,123.09 L298.70,123.21 L299.55,123.32 L300.41,123.43 L301.26,123.54 L302.12,123.65 L302.97,123.76 L303.83,123.87 L304.69,123.97 L305.54,124.08 L306.40,124.18 L307.25,124.28 L308.11,124.39 L308.96,124.49 L309.82,124.58 L310.68,124.68 L311.53,124.78 L312.39,124.87 L313.24,124.97 L314.10,125.06 L314.95,125.15 L315.81,125.24 L316.67,125.33 L317.52,125.42 L318.38,125.51 L319.23,125.59 L320.09,125.68 L320.94,125.76 L321.80,125.84 L322.66,125.92 L323.51,126.00 L324.37,126.08 L325.22,126.16 L326.08,126.24 L326.93,126.31 L327.79,126.39 L328.65,126.46 L329.50,126.53 L330.36,126.61 L331.21,126.68 L332.07,126.75 L332.92,126.81 L333.78,126.88 L334.64,126.95 L335.49,127.01 L336.35,127.07 L337.20,127.14 L338.06,127.20 L338.91,127.26 L339.77,127.32 L340.63,127.38 L341.48,127.43 L342.34,127.49 L343.19,127.55 L344.05,127.60 L344.90,127.65 L345.76,127.71 L346.61,127.76 L347.47,127.81 L348.33,127.86 L349.18,127.90 L350.04,127.95 L350.89,128.00 L351.75,128.04 L352.60,128.09 L353.46,128.13 L354.32,128.17 L355.17,128.21 L356.03,128.25 L356.88,128.29 L357.74,128.33 L358.59,128.36 L359.45,128.40 L360.31,128.43 L361.16,128.47 L362.02,128.50 L362.87,128.53 L363.73,128.56 L364.58,128.59 L365.44,128.62 L366.30,128.65 L367.15,128.67 L368.01,128.70 L368.86,128.72 L369.72,128.75 L370.57,128.77 L371.43,128.79 L372.29,128.81 L373.14,128.83 L374.00,128.85 L374.85,128.87 L375.71,128.88 L376.56,128.90 L377.42,128.91 L378.28,128.93 L379.13,128.94 L379.99,128.95 L380.84,128.96 L381.70,128.97 L382.55,128.98 L383.41,128.98 L384.27,128.99 L385.12,129.00 L385.98,129.00 L386.83,129.00 L387.69,129.01 L388.54,129.01 L389.40,129.01" fill="none" stroke="#2a2aff" stroke-width="1.28" stroke-dasharray="3.05 2.498" stroke-dashoffset="-130.41"/>
<path d="M24.87,189.88 L25.73,188.98 L26.58,188.12 L27.44,187.28 L28.29,186.47 L29.15,185.68 L30.01,184.92 L30.86,184.18 L31.72,183.46 L32.57,182.76 L33.43,182.09 L34.28,181.43 L35.14,180.79 L36.00,180.17 L36.85,179.56 L37.71,178.97 L38.56,178.40 L39.42,177.84 L40.27,177.30 L41.13,176.77 L41.99,176.26 L42.84,175.75 L43.70,175.26 L44.55,174.78 L45.41,174.32 L46.26,173.86 L47.12,173.42 L47.98,172.99 L48.83,172.57 L49.69,172.15 L50.54,171.75 L51.40,171.36 L52.25,170.98 L53.11,170.60 L53.97,170.24 L54.82,169.88 L55.68,169.53 L56.53,169.19 L57.39,168.86 L58.24,168.54 L59.10,168.22 L59.96,167.91 L60.81,167.61 L61.67,167.31 L62.52,167.02 L63.38,166.74 L64.23,166.47 L65.09,166.20 L65.95,165.94 L66.80,165.68 L67.66,165.43 L68.51,165.18 L69.37,164.94 L70.22,164.71 L71.08,164.48 L71.94,164.26 L72.79,164.04 L73.65,163.83 L74.50,163.62 L75.36,163.42 L76.21,163.22 L77.07,163.03 L77.93,162.84 L78.78,162.66 L79.64,162.48 L80.49,162.30 L81.35,162.13 L82.20,161.97 L83.06,161.80 L83.91,161.64 L84.77,161.49 L85.63,161.34 L86.48,161.19 L87.34,161.05 L88.19,160.91 L89.05,160.77 L89.90,160.64 L90.76,160.51 L91.62,160.38 L92.47,160.26 L93.33,160.14 L94.18,160.02 L95.04,159.91 L95.89,159.80 L96.75,159.69 L97.61,159.59 L98.46,159.49 L99.32,159.39 L100.17,159.29 L101.03,159.20 L101.88,159.11 L102.74,159.02 L103.60,158.93 L104.45,158.85 L105.31,158.77 L106.16,158.69 L107.02,158.62 L107.87,158.54 L108.73,158.47 L109.59,158.40 L110.44,158.34 L111.30,158.27 L112.15,158.21 L113.01,158.15 L113.86,158.09 L114.72,158.04 L115.58,157.98 L116.43,157.93 L117.29,157.88 L118.14,157.83 L119.00,157.79 L119.85,157.74 L120.71,157.70 L121.57,157.66 L122.42,157.62 L123.28,157.58 L124.13,157.55 L124.99,157.51 L125.84,157.48 L126.70,157.45 L127.56,157.42 L128.41,157.39 L129.27,157.37 L130.12,157.34 L130.98,157.32 L131.83,157.30 L132.69,157.28 L133.55,157.26 L134.40,157.24 L135.26,157.22 L136.11,157.21 L136.97,157.19 L137.82,157.18 L138.68,157.17 L139.54,157.16 L140.39,157.15 L141.25,157.14 L142.10,157.13 L142.96,157.13 L143.81,157.12 L144.67,157.12 L145.53,157.12 L146.38,157.11 L147.24,157.11 L148.09,157.11 L148.95,157.12 L149.80,157.12 L150.66,157.12 L151.52,157.12 L152.37,157.13 L153.23,157.14 L154.08,157.14 L154.94,157.15 L155.79,157.16 L156.65,157.17 L157.51,157.18 L158.36,157.19 L159.22,157.20 L160.07,157.21 L160.93,157.22 L161.78,157.24 L162.64,157.25 L163.50,157.27 L164.35,157.28 L165.21,157.30 L166.06,157.32 L166.92,157.33 L167.77,157.35 L168.63,157.37 L169.49,157.39 L170.34,157.41 L171.20,157.43 L172.05,157.45 L172.91,157.47 L173.76,157.50 L174.62,157.52 L175.47,157.54 L176.33,157.57 L177.19,157.59 L178.04,157.62 L178.90,157.64 L179.75,157.67 L180.61,157.69 L181.46,157.72 L182.32,157.74 L183.18,157.77 L184.03,157.80 L184.89,157.83 L185.74,157.86 L186.60,157.88 L187.45,157.91 L188.31,157.94 L189.17,157.97 L190.02,158.00 L190.88,158.03 L191.73,158.06 L192.59,158.10 L193.44,158.13 L194.30,158.16 L195.16,158.19 L196.01,158.22 L196.87,158.25 L197.72,158.29 L198.58,158.32 L199.43,158.35 L200.29,158.39 L201.15,158.42 L202.00,158.45 L202.86,158.49 L203.71,158.52 L204.57,158.56 L205.42,158.59 L206.28,158.62 L207.14,158.66 L207.99,158.69 L208.85,158.73 L209.70,158.76 L210.56,158.80 L211.41,158.83 L212.27,158.87 L213.13,158.91 L213.98,158.94 L214.84,158.98 L215.69,159.01 L216.55,159.05 L217.40,159.09 L218.26,159.12 L219.12,159.16 L219.97,159.20 L220.83,159.23 L221.68,159.27 L222.54,159.31 L223.39,159.34 L224.25,159.38 L225.11,159.42 L225.96,159.45 L226.82,159.49 L227.67,159.53 L228.53,159.56 L229.38,159.60 L230.24,159.64 L231.10,159.67 L231.95,159.71 L232.81,159.75 L233.66,159.78 L234.52,159.82 L235.37,159.86 L236.23,159.89 L237.09,159.93 L237.94,159.97 L238.80,160.00 L239.65,160.04 L240.51,160.08 L241.36,160.11 L242.22,160.15 L243.08,160.19 L243.93,160.22 L244.79,160.26 L245.64,160.30 L246.50,160.33 L247.35,160.37 L248.21,160.40 L249.07,160.44 L249.92,160.48 L250.78,160.51 L251.63,160.55 L252.49,160.58 L253.34,160.62 L254.20,160.65 L255.06,160.69 L255.91,160.72 L256.77,160.76 L257.62,160.79 L258.48,160.83 L259.33,160.86 L260.19,160.90 L261.04,160.93 L261.90,160.97 L262.76,161.00 L263.61,161.04 L264.47,161.07 L265.32,161.10 L266.18,161.14 L267.03,161.17 L267.89,161.20 L268.75,161.24 L269.60,161.27 L270.46,161.30 L271.31,161.34 L272.17,161.37 L273.02,161.40 L273.88,161.43 L274.74,161.47 L275.59,161.50 L276.45,161.53 L277.30,161.56 L278.16,161.59 L279.01,161.63 L279.87,161.66 L280.73,161.69 L281.58,161.72 L282.44,161.75 L283.29,161.78 L284.15,161.81 L285.00,161.84 L285.86,161.87 L286.72,161.90 L287.57,161.93 L288.43,161.96 L289.28,161.99 L290.14,162.02 L290.99,162.05 L291.85,162.07 L292.71,162.10 L293.56,162.13 L294.42,162.16 L295.27,162.19 L296.13,162.21 L296.98,162.24 L297.84,162.27 L298.70,162.30 L299.55,162.32 L300.41,162.35 L301.26,162.38 L302.12,162.40 L302.97,162.43 L303.83,162.45 L304.69,162.48 L305.54,162.50 L306.40,162.53 L307.25,162.55 L308.11,162.58 L308.96,162.60 L309.82,162.63 L310.68,162.65 L311.53,162.67 L312.39,162.70 L313.24,162.72 L314.10,162.74 L314.95,162.77 L315.81,162.79 L316.67,162.81 L317.52,162.83 L318.38,162.85 L319.23,162.88 L320.09,162.90 L320.94,162.92 L321.80,162.94 L322.66,162.96 L323.51,162.98 L324.37,163.00 L325.22,163.02 L326.08,163.04 L326.93,163.06 L327.79,163.08 L328.65,163.10 L329.50,163.12 L330.36,163.13 L331.21,163.15 L332.07,163.17 L332.92,163.19 L333.78,163.21 L334.64,163.22 L335.49,163.24 L336.35,163.26 L337.20,163.27 L338.06,163.29 L338.91,163.30 L339.77,163.32 L340.63,163.34 L341.48,163.35 L342.34,163.37 L343.19,163.38 L344.05,163.39 L344.90,163.41 L345.76,163.42 L346.61,163.44 L347.47,163.45 L348.33,163.46 L349.18,163.47 L350.04,163.49 L350.89,163.50 L351.75,163.51 L352.60,163.52 L353.46,163.53 L354.32,163.55 L355.17,163.56 L356.03,163.57 L356.88,163.58 L357.74,163.59 L358.59,163.60 L359.45,163.61 L360.31,163.62 L361.16,163.63 L362.02,163.63 L362.87,163.64 L363.73,163.65 L364.58,163.66 L365.44,163.67 L366.30,163.67 L367.15,163.68 L368.01,163.69 L368.86,163.69 L369.72,163.70 L370.57,163.71 L371.43,163.71 L372.29,163.72 L373.14,163.72 L374.00,163.73 L374.85,163.73 L375.71,163.74 L376.56,163.74 L377.42,163.75 L378.28,163.75 L379.13,163.75 L379.99,163.76 L380.84,163.76 L381.70,163.76 L382.55,163.76 L383.41,163.77 L384.27,163.77 L385.12,163.77 L385.98,163.77 L386.83,163.77 L387.69,163.77 L388.54,163.77 L389.40,163.77" fill="none" stroke="#2a2aff" stroke-width="1.28" stroke-dasharray="8.23 2.92 2.01 2.92" stroke-dashoffset="-4.54"/>
<path d="M24.87,148.88 L25.73,147.69 L26.58,146.55 L27.44,145.46 L28.29,144.42 L29.15,143.43 L30.01,142.48 L30.86,141.57 L31.72,140.69 L32.57,139.86 L33.43,139.06 L34.28,138.29 L35.14,137.55 L36.00,136.85 L36.85,136.17 L37.71,135.52 L38.56,134.89 L39.42,134.29 L40.27,133.72 L41.13,133.17 L41.99,132.64 L42.84,132.13 L43.70,131.64 L44.55,131.18 L45.41,130.73 L46.26,130.30 L47.12,129.89 L47.98,129.49 L48.83,129.11 L49.69,128.75 L50.54,128.40 L51.40,128.07 L52.25,127.75 L53.11,127.45 L53.97,127.16 L54.82,126.88 L55.68,126.61 L56.53,126.36 L57.39,126.12 L58.24,125.89 L59.10,125.67 L59.96,125.46 L60.81,125.26 L61.67,125.07 L62.52,124.89 L63.38,124.72 L64.23,124.56 L65.09,124.41 L65.95,124.27 L66.80,124.13 L67.66,124.01 L68.51,123.89 L69.37,123.78 L70.22,123.67 L71.08,123.57 L71.94,123.48 L72.79,123.40 L73.65,123.32 L74.50,123.25 L75.36,123.19 L76.21,123.13 L77.07,123.08 L77.93,123.03 L78.78,122.99 L79.64,122.95 L80.49,122.92 L81.35,122.90 L82.20,122.88 L83.06,122.86 L83.91,122.85 L84.77,122.84 L85.63,122.84 L86.48,122.84 L87.34,122.84 L88.19,122.85 L89.05,122.87 L89.90,122.88 L90.76,122.91 L91.62,122.93 L92.47,122.96 L93.33,122.99 L94.18,123.02 L95.04,123.06 L95.89,123.10 L96.75,123.15 L97.61,123.19 L98.46,123.24 L99.32,123.29 L100.17,123.35 L101.03,123.41 L101.88,123.47 L102.74,123.53 L103.60,123.59 L104.45,123.66 L105.31,123.73 L106.16,123.80 L107.02,123.88 L107.87,123.95 L108.73,124.03 L109.59,124.11 L110.44,124.19 L111.30,124.28 L112.15,124.36 L113.01,124.45 L113.86,124.54 L114.72,124.63 L115.58,124.72 L116.43,124.81 L117.29,124.91 L118.14,125.00 L119.00,125.10 L119.85,125.20 L120.71,125.30 L121.57,125.40 L122.42,125.50 L123.28,125.60 L124.13,125.71 L124.99,125.81 L125.84,125.92 L126.70,126.03 L127.56,126.14 L128.41,126.25 L129.27,126.36 L130.12,126.47 L130.98,126.58 L131.83,126.69 L132.69,126.81 L133.55,126.92 L134.40,127.04 L135.26,127.15 L136.11,127.27 L136.97,127.39 L137.82,127.50 L138.68,127.62 L139.54,127.74 L140.39,127.86 L141.25,127.98 L142.10,128.10 L142.96,128.22 L143.81,128.34 L144.67,128.46 L145.53,128.58 L146.38,128.70 L147.24,128.83 L148.09,128.95 L148.95,129.07 L149.80,129.19 L150.66,129.32 L151.52,129.44 L152.37,129.57 L153.23,129.69 L154.08,129.81 L154.94,129.94 L155.79,130.06 L156.65,130.19 L157.51,130.31 L158.36,130.44 L159.22,130.56 L160.07,130.68 L160.93,130.81 L161.78,130.93 L162.64,131.06 L163.50,131.18 L164.35,131.31 L165.21,131.43 L166.06,131.56 L166.92,131.68 L167.77,131.81 L168.63,131.93 L169.49,132.06 L170.34,132.18 L171.20,132.30 L172.05,132.43 L172.91,132.55 L173.76,132.68 L174.62,132.80 L175.47,132.92 L176.33,133.05 L177.19,133.17 L178.04,133.29 L178.90,133.41 L179.75,133.54 L180.61,133.66 L181.46,133.78 L182.32,133.90 L183.18,134.02 L184.03,134.15 L184.89,134.27 L185.74,134.39 L186.60,134.51 L187.45,134.63 L188.31,134.75 L189.17,134.87 L190.02,134.99 L190.88,135.11 L191.73,135.22 L192.59,135.34 L193.44,135.46 L194.30,135.58 L195.16,135.69 L196.01,135.81 L196.87,135.93 L197.72,136.04 L198.58,136.16 L199.43,136.27 L200.29,136.39 L201.15,136.50 L202.00,136.62 L202.86,136.73 L203.71,136.85 L204.57,136.96 L205.42,137.07 L206.28,137.18 L207.14,137.30 L207.99,137.41 L208.85,137.52 L209.70,137.63 L210.56,137.74 L211.41,137.85 L212.27,137.96 L213.13,138.07 L213.98,138.17 L214.84,138.28 L215.69,138.39 L216.55,138.50 L217.40,138.60 L218.26,138.71 L219.12,138.81 L219.97,138.92 L220.83,139.02 L221.68,139.13 L222.54,139.23 L223.39,139.34 L224.25,139.44 L225.11,139.54 L225.96,139.64 L226.82,139.74 L227.67,139.84 L228.53,139.94 L229.38,140.04 L230.24,140.14 L231.10,140.24 L231.95,140.34 L232.81,140.44 L233.66,140.54 L234.52,140.63 L235.37,140.73 L236.23,140.83 L237.09,140.92 L237.94,141.02 L238.80,141.11 L239.65,141.20 L240.51,141.30 L241.36,141.39 L242.22,141.48 L243.08,141.57 L243.93,141.66 L244.79,141.76 L245.64,141.85 L246.50,141.94 L247.35,142.02 L248.21,142.11 L249.07,142.20 L249.92,142.29 L250.78,142.38 L251.63,142.46 L252.49,142.55 L253.34,142.63 L254.20,142.72 L255.06,142.80 L255.91,142.89 L256.77,142.97 L257.62,143.05 L258.48,143.14 L259.33,143.22 L260.19,143.30 L261.04,143.38 L261.90,143.46 L262.76,143.54 L263.61,143.62 L264.47,143.70 L265.32,143.77 L266.18,143.85 L267.03,143.93 L267.89,144.00 L268.75,144.08 L269.60,144.16 L270.46,144.23 L271.31,144.30 L272.17,144.38 L273.02,144.45 L273.88,144.52 L274.74,144.60 L275.59,144.67 L276.45,144.74 L277.30,144.81 L278.16,144.88 L279.01,144.95 L279.87,145.02 L280.73,145.08 L281.58,145.15 L282.44,145.22 L283.29,145.29 L284.15,145.35 L285.00,145.42 L285.86,145.48 L286.72,145.55 L287.57,145.61 L288.43,145.67 L289.28,145.74 L290.14,145.80 L290.99,145.86 L291.85,145.92 L292.71,145.98 L293.56,146.04 L294.42,146.10 L295.27,146.16 L296.13,146.22 L296.98,146.28 L297.84,146.33 L298.70,146.39 L299.55,146.45 L300.41,146.50 L301.26,146.56 L302.12,146.61 L302.97,146.67 L303.83,146.72 L304.69,146.77 L305.54,146.83 L306.40,146.88 L307.25,146.93 L308.11,146.98 L308.96,147.03 L309.82,147.08 L310.68,147.13 L311.53,147.18 L312.39,147.23 L313.24,147.27 L314.10,147.32 L314.95,147.37 L315.81,147.41 L316.67,147.46 L317.52,147.50 L318.38,147.55 L319.23,147.59 L320.09,147.64 L320.94,147.68 L321.80,147.72 L322.66,147.76 L323.51,147.80 L324.37,147.84 L325.22,147.88 L326.08,147.92 L326.93,147.96 L327.79,148.00 L328.65,148.04 L329.50,148.08 L330.36,148.11 L331.21,148.15 L332.07,148.19 L332.92,148.22 L333.78,148.26 L334.64,148.29 L335.49,148.32 L336.35,148.36 L337.20,148.39 L338.06,148.42 L338.91,148.45 L339.77,148.48 L340.63,148.51 L341.48,148.54 L342.34,148.57 L343.19,148.60 L344.05,148.63 L344.90,148.66 L345.76,148.69 L346.61,148.71 L347.47,148.74 L348.33,148.76 L349.18,148.79 L350.04,148.81 L350.89,148.84 L351.75,148.86 L352.60,148.89 L353.46,148.91 L354.32,148.93 L355.17,148.95 L356.03,148.97 L356.88,148.99 L357.74,149.01 L358.59,149.03 L359.45,149.05 L360.31,149.07 L361.16,149.09 L362.02,149.10 L362.87,149.12 L363.73,149.14 L364.58,149.15 L365.44,149.17 L366.30,149.18 L367.15,149.19 L368.01,149.21 L368.86,149.22 L369.72,149.23 L370.57,149.25 L371.43,149.26 L372.29,149.27 L373.14,149.28 L374.00,149.29 L374.85,149.30 L375.71,149.31 L376.56,149.31 L377.42,149.32 L378.28,149.33 L379.13,149.34 L379.99,149.34 L380.84,149.35 L381.70,149.35 L382.55,149.36 L383.41,149.36 L384.27,149.36 L385.12,149.37 L385.98,149.37 L386.83,149.37 L387.69,149.37 L388.54,149.37 L389.40,149.37" fill="none" stroke="#2a2aff" stroke-width="1.28" stroke-dasharray="8.3 2.67" stroke-dashoffset="-3.97"/>
<path d="M24.87,112.70 L25.73,111.61 L26.58,110.59 L27.44,109.64 L28.29,108.74 L29.15,107.89 L30.01,107.09 L30.86,106.34 L31.72,105.63 L32.57,104.97 L33.43,104.35 L34.28,103.76 L35.14,103.21 L36.00,102.69 L36.85,102.21 L37.71,101.75 L38.56,101.32 L39.42,100.93 L40.27,100.55 L41.13,100.20 L41.99,99.88 L42.84,99.58 L43.70,99.30 L44.55,99.04 L45.41,98.80 L46.26,98.58 L47.12,98.38 L47.98,98.19 L48.83,98.02 L49.69,97.87 L50.54,97.73 L51.40,97.61 L52.25,97.50 L53.11,97.40 L53.97,97.32 L54.82,97.25 L55.68,97.19 L56.53,97.14 L57.39,97.11 L58.24,97.08 L59.10,97.06 L59.96,97.06 L60.81,97.06 L61.67,97.07 L62.52,97.09 L63.38,97.12 L64.23,97.16 L65.09,97.20 L65.95,97.26 L66.80,97.32 L67.66,97.38 L68.51,97.46 L69.37,97.53 L70.22,97.62 L71.08,97.71 L71.94,97.81 L72.79,97.91 L73.65,98.02 L74.50,98.13 L75.36,98.25 L76.21,98.37 L77.07,98.49 L77.93,98.62 L78.78,98.76 L79.64,98.90 L80.49,99.04 L81.35,99.19 L82.20,99.34 L83.06,99.49 L83.91,99.65 L84.77,99.81 L85.63,99.97 L86.48,100.13 L87.34,100.30 L88.19,100.47 L89.05,100.65 L89.90,100.82 L90.76,101.00 L91.62,101.18 L92.47,101.36 L93.33,101.55 L94.18,101.73 L95.04,101.92 L95.89,102.11 L96.75,102.31 L97.61,102.50 L98.46,102.69 L99.32,102.89 L100.17,103.09 L101.03,103.29 L101.88,103.49 L102.74,103.69 L103.60,103.89 L104.45,104.10 L105.31,104.30 L106.16,104.51 L107.02,104.72 L107.87,104.92 L108.73,105.13 L109.59,105.34 L110.44,105.55 L111.30,105.76 L112.15,105.97 L113.01,106.19 L113.86,106.40 L114.72,106.61 L115.58,106.82 L116.43,107.04 L117.29,107.25 L118.14,107.47 L119.00,107.68 L119.85,107.90 L120.71,108.11 L121.57,108.33 L122.42,108.54 L123.28,108.76 L124.13,108.97 L124.99,109.19 L125.84,109.40 L126.70,109.62 L127.56,109.83 L128.41,110.05 L129.27,110.26 L130.12,110.48 L130.98,110.69 L131.83,110.91 L132.69,111.12 L133.55,111.34 L134.40,111.55 L135.26,111.77 L136.11,111.98 L136.97,112.19 L137.82,112.41 L138.68,112.62 L139.54,112.83 L140.39,113.04 L141.25,113.25 L142.10,113.46 L142.96,113.67 L143.81,113.89 L144.67,114.09 L145.53,114.30 L146.38,114.51 L147.24,114.72 L148.09,114.93 L148.95,115.14 L149.80,115.34 L150.66,115.55 L151.52,115.75 L152.37,115.96 L153.23,116.16 L154.08,116.37 L154.94,116.57 L155.79,116.77 L156.65,116.98 L157.51,117.18 L158.36,117.38 L159.22,117.58 L160.07,117.78 L160.93,117.98 L161.78,118.18 L162.64,118.37 L163.50,118.57 L164.35,118.77 L165.21,118.96 L166.06,119.16 L166.92,119.35 L167.77,119.54 L168.63,119.74 L169.49,119.93 L170.34,120.12 L171.20,120.31 L172.05,120.50 L172.91,120.69 L173.76,120.87 L174.62,121.06 L175.47,121.25 L176.33,121.43 L177.19,121.62 L178.04,121.80 L178.90,121.99 L179.75,122.17 L180.61,122.35 L181.46,122.53 L182.32,122.71 L183.18,122.89 L184.03,123.07 L184.89,123.25 L185.74,123.43 L186.60,123.60 L187.45,123.78 L188.31,123.95 L189.17,124.13 L190.02,124.30 L190.88,124.47 L191.73,124.64 L192.59,124.81 L193.44,124.98 L194.30,125.15 L195.16,125.32 L196.01,125.49 L196.87,125.65 L197.72,125.82 L198.58,125.98 L199.43,126.15 L200.29,126.31 L201.15,126.47 L202.00,126.63 L202.86,126.79 L203.71,126.95 L204.57,127.11 L205.42,127.27 L206.28,127.43 L207.14,127.58 L207.99,127.74 L208.85,127.89 L209.70,128.05 L210.56,128.20 L211.41,128.35 L212.27,128.51 L213.13,128.66 L213.98,128.81 L214.84,128.95 L215.69,129.10 L216.55,129.25 L217.40,129.40 L218.26,129.54 L219.12,129.69 L219.97,129.83 L220.83,129.97 L221.68,130.11 L222.54,130.26 L223.39,130.40 L224.25,130.54 L225.11,130.68 L225.96,130.81 L226.82,130.95 L227.67,131.09 L228.53,131.22 L229.38,131.36 L230.24,131.49 L231.10,131.62 L231.95,131.76 L232.81,131.89 L233.66,132.02 L234.52,132.15 L235.37,132.28 L236.23,132.41 L237.09,132.53 L237.94,132.66 L238.80,132.79 L239.65,132.91 L240.51,133.03 L241.36,133.16 L242.22,133.28 L243.08,133.40 L243.93,133.52 L244.79,133.64 L245.64,133.76 L246.50,133.88 L247.35,134.00 L248.21,134.11 L249.07,134.23 L249.92,134.35 L250.78,134.46 L251.63,134.57 L252.49,134.69 L253.34,134.80 L254.20,134.91 L255.06,135.02 L255.91,135.13 L256.77,135.24 L257.62,135.35 L258.48,135.46 L259.33,135.56 L260.19,135.67 L261.04,135.77 L261.90,135.88 L262.76,135.98 L263.61,136.08 L264.47,136.18 L265.32,136.29 L266.18,136.39 L267.03,136.49 L267.89,136.58 L268.75,136.68 L269.60,136.78 L270.46,136.88 L271.31,136.97 L272.17,137.07 L273.02,137.16 L273.88,137.25 L274.74,137.35 L275.59,137.44 L276.45,137.53 L277.30,137.62 L278.16,137.71 L279.01,137.80 L279.87,137.89 L280.73,137.98 L281.58,138.06 L282.44,138.15 L283.29,138.23 L284.15,138.32 L285.00,138.40 L285.86,138.48 L286.72,138.57 L287.57,138.65 L288.43,138.73 L289.28,138.81 L290.14,138.89 L290.99,138.97 L291.85,139.04 L292.71,139.12 L293.56,139.20 L294.42,139.27 L295.27,139.35 L296.13,139.42 L296.98,139.50 L297.84,139.57 L298.70,139.64 L299.55,139.71 L300.41,139.78 L301.26,139.85 L302.12,139.92 L302.97,139.99 L303.83,140.06 L304.69,140.12 L305.54,140.19 L306.40,140.26 L307.25,140.32 L308.11,140.39 L308.96,140.45 L309.82,140.51 L310.68,140.57 L311.53,140.64 L312.39,140.70 L313.24,140.76 L314.10,140.81 L314.95,140.87 L315.81,140.93 L316.67,140.99 L317.52,141.04 L318.38,141.10 L319.23,141.16 L320.09,141.21 L320.94,141.26 L321.80,141.32 L322.66,141.37 L323.51,141.42 L324.37,141.47 L325.22,141.52 L326.08,141.57 L326.93,141.62 L327.79,141.67 L328.65,141.72 L329.50,141.76 L330.36,141.81 L331.21,141.85 L332.07,141.90 L332.92,141.94 L333.78,141.99 L334.64,142.03 L335.49,142.07 L336.35,142.11 L337.20,142.15 L338.06,142.19 L338.91,142.23 L339.77,142.27 L340.63,142.31 L341.48,142.35 L342.34,142.38 L343.19,142.42 L344.05,142.45 L344.90,142.49 L345.76,142.52 L346.61,142.55 L347.47,142.59 L348.33,142.62 L349.18,142.65 L350.04,142.68 L350.89,142.71 L351.75,142.74 L352.60,142.77 L353.46,142.80 L354.32,142.82 L355.17,142.85 L356.03,142.88 L356.88,142.90 L357.74,142.93 L358.59,142.95 L359.45,142.97 L360.31,143.00 L361.16,143.02 L362.02,143.04 L362.87,143.06 L363.73,143.08 L364.58,143.10 L365.44,143.12 L366.30,143.14 L367.15,143.15 L368.01,143.17 L368.86,143.19 L369.72,143.20 L370.57,143.22 L371.43,143.23 L372.29,143.24 L373.14,143.26 L374.00,143.27 L374.85,143.28 L375.71,143.29 L376.56,143.30 L377.42,143.31 L378.28,143.32 L379.13,143.33 L379.99,143.33 L380.84,143.34 L381.70,143.35 L382.55,143.35 L383.41,143.36 L384.27,143.36 L385.12,143.37 L385.98,143.37 L386.83,143.37 L387.69,143.37 L388.54,143.37 L389.40,143.37" fill="none" stroke="#2a2aff" stroke-width="1.28"/>
</g>
<g class="sans">
<text x="23.5" y="251.9" text-anchor="end">0</text>
<text x="23.5" y="214.4" text-anchor="end">1</text>
<text x="23.5" y="176.8" text-anchor="end">2</text>
<text x="23.5" y="139.3" text-anchor="end">3</text>
<text x="23.5" y="101.8" text-anchor="end">4</text>
<text x="23.5" y="64.2" text-anchor="end">5</text>
<text x="23.5" y="26.7" text-anchor="end">6</text>
<text x="111.4" y="260.6" text-anchor="middle">50</text>
<text x="218.5" y="260.6" text-anchor="middle">100</text>
<text x="325.5" y="260.6" text-anchor="middle">150</text>
</g>
<!-- title -->
<text id="title" class="ser" y="11.5" font-size="13" font-weight="bold"><tspan x="35">Annihilation: Total</tspan><tspan x="143.9">(</tspan><tspan x="148.4" class="it">N</tspan><tspan x="158.0" font-size="9" dy="2.6">BG</tspan><tspan x="170.5" dy="-2.6">,</tspan><tspan x="177.1" class="it">N</tspan><tspan x="187.0" font-size="9" dy="2.6">Sig</tspan><tspan x="200.5" dy="-2.6">)</tspan><tspan x="213.9">(10</tspan><tspan x="232">,</tspan><tspan x="239.6">5)</tspan><tspan x="252.4">[Red]</tspan><tspan x="287.2">&amp;</tspan><tspan x="300.8">(10</tspan><tspan x="318.5">,</tspan><tspan x="325.6">10)</tspan><tspan x="345.6">[Blue]</tspan></text>
<path d="M205.5,6.9H213M205.5,9.9H213" stroke="#000" stroke-width="1.25" fill="none"/>
<!-- y label -->
<text id="ylab" class="ser" font-size="13" font-weight="bold" transform="translate(10.7,168.6) rotate(-90)">Significance</text>
<!-- x label -->
<text class="ser it" x="192.3" y="277.7" font-size="13" stroke="#000" stroke-width="0.3">θ</text>
<text class="ser it" x="198.7" y="279.4" font-size="9" stroke="#000" stroke-width="0.35">C</text>
<path d="M209.3,268.7H211.4V269.5H210.5V278.1H211.4V278.9H209.3Z M221.6,268.7H219.6V269.5H220.4V278.1H219.6V278.9H221.6Z" fill="#000"/>
<circle cx="215.55" cy="271.25" r="1.7" fill="none" stroke="#000" stroke-width="1.3"/>
<!-- legend -->
<g fill="none" stroke="#ff2a2a" stroke-width="1.4">
<path d="M213,35H235" stroke-dasharray="1.2 1.06"/>
<path d="M213,54H235" stroke-dasharray="5.1 0.8 1.25 0.9" stroke-dashoffset="3.2"/>
<path d="M213,73H235" stroke-dasharray="4.6 1"/>
<path d="M213,92H235"/>
</g>
<g class="leg">
<!-- row1 -->
<text x="239.1" y="37.2" textLength="5.7" lengthAdjust="spacingAndGlyphs">S</text>
<text x="259.4" y="37.2" class="it">B</text>
<!-- row2 -->
<text x="239.3" y="56" textLength="5.7" lengthAdjust="spacingAndGlyphs">S</text>
<text x="259.5" y="56" class="it">S</text><text x="278.8" y="56" class="it">B</text>
<!-- row3 -->
<text x="239.3" y="75.5">2</text><text x="245.2" y="75.8" font-size="13">(</text>
<text x="259.5" y="75.5" class="it">S</text><text x="278.8" y="75.5" class="it">B</text>
<text x="304.5" y="75.5" class="it">B</text><text x="314.4" y="75.8" font-size="13">)</text>
<!-- row4 -->
<text id="r4" y="94.5"><tspan x="248.5">2</tspan><tspan x="257.5">(</tspan><tspan x="260.8" class="it">S</tspan><tspan x="279.0" class="it">B</tspan><tspan x="286.2">)</tspan><tspan x="292.7" textLength="14.4" lengthAdjust="spacingAndGlyphs">log</tspan><tspan x="309.7">(</tspan><tspan x="313.2">1</tspan><tspan x="332" class="it">S</tspan><tspan x="340.4">/</tspan><tspan x="345.8" class="it">B</tspan><tspan x="353.0">)</tspan><tspan x="370.1">2</tspan><tspan x="378.2" class="it">S</tspan></text>
</g>
<g fill="none" stroke="#111" stroke-linejoin="miter" stroke-linecap="butt">
<path d="M250.30,33.20L251.60,32.40" stroke-width="0.7"/><path d="M251.45,32.10L254.40,38.40" stroke-width="1.5"/><path d="M254.30,38.80L258.00,26.20H268.80" stroke-width="0.8"/><path d="M250.20,51.90L251.50,51.10" stroke-width="0.7"/><path d="M251.35,50.80L254.30,57.10" stroke-width="1.5"/><path d="M254.20,57.50L257.50,45.30H287.00" stroke-width="0.8"/><path d="M250.20,71.30L251.50,70.50" stroke-width="0.7"/><path d="M251.35,70.20L254.30,76.50" stroke-width="1.5"/><path d="M254.20,76.90L257.50,64.30H286.80" stroke-width="0.8"/><path d="M295.90,71.10L297.20,70.30" stroke-width="0.7"/><path d="M297.05,70.00L300.00,76.30" stroke-width="1.5"/><path d="M299.90,76.70L303.40,64.40H314.80" stroke-width="0.8"/><path d="M239.70,90.10L241.00,89.30" stroke-width="0.7"/><path d="M240.85,89.00L243.80,95.30" stroke-width="1.5"/><path d="M243.70,95.70L246.90,83.40H385.40" stroke-width="0.8"/>
<path d="M268.8,53.0H274.8M271.8,50.0V56.0 M268.8,72.5H274.8M271.8,69.5V75.5 M288.2,72.5H294.2 M269.4,91.5H275.4M272.4,88.5V94.5 M322.6,91.5H328.6M325.6,88.5V94.5 M360.6,91.5H366.6" stroke-width="0.9"/>
<path d="M248.8,28.2L245.8,39.2" stroke-width="0.85"/>
<path d="M249,47.2L245.9,58.4" stroke-width="0.85"/>
</g>
</svg>
</body></html>
